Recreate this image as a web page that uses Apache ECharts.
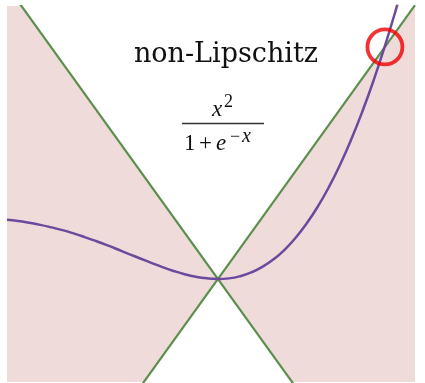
<!DOCTYPE html>
<html>
<head>
<meta charset="utf-8">
<script src="https://cdn.jsdelivr.net/npm/echarts@6/dist/echarts.min.js"></script>
<style>
html,body{margin:0;padding:0;background:#fff;}
#chart{width:425px;height:383px;}
</style>
</head>
<body>
<div id="chart"></div>
<script>
// Axis extents (data units)
var xRange = [-1.9, 1.775];
var yRange = [-0.818, 2.168];

// Cone apex and the two wedges (x at edge, upper y, lower y)
var coneApex = [0, 0];
var wedgeX = [-1.9, 1.775];
var wedgeTop = [2.3275, 2.1744];
var wedgeBottom = [-2.3275, -2.1744];

// The two boundary lines of the cone (slope +-1.225)
var lineDown = [[-1.9, 2.3275], [1.775, -2.1744]];
var lineUp = [[-1.9, -2.3275], [1.775, 2.1744]];

// Curve x^2/(1+e^-x), values
var curveX = [-1.9,-1.8,-1.7,-1.6,-1.5,-1.4,-1.3,-1.2,-1.1,-1.0,-0.9,-0.8,-0.7,-0.6,-0.5,-0.4,-0.3,-0.2,-0.1,0,
              0.1,0.2,0.3,0.4,0.5,0.6,0.7,0.8,0.9,1.0,1.1,1.2,1.3,1.4,1.5,1.6,1.7];
var curveY = [0.470,0.460,0.446,0.430,0.410,0.388,0.362,0.333,0.302,0.269,0.234,0.198,0.163,0.128,0.094,0.064,0.038,0.018,0.005,0,
              0.005,0.022,0.052,0.096,0.156,0.232,0.327,0.442,0.576,0.731,0.908,1.107,1.328,1.572,1.840,2.130,2.443];

// Highlighted crossing point
var markPoint = [[1.504, 1.843]];

var chart = echarts.init(document.getElementById('chart'), null, {renderer: 'canvas'});

function pairs(xs, ys) { return xs.map(function (x, i) { return [x, ys[i]]; }); }

var green = '#5b8f4c';
var purple = '#6b4a9e';
var shade = '#efdbd9';

var wedgeData = wedgeX.map(function (x, i) { return [x, wedgeTop[i], wedgeBottom[i]]; });

var option = {
  animation: false,
  backgroundColor: '#ffffff',
  grid: {left: 7, right: 10, top: 6, bottom: 1, containLabel: false},
  xAxis: {type: 'value', min: xRange[0], max: xRange[1], show: false},
  yAxis: {type: 'value', min: yRange[0], max: yRange[1], show: false},
  series: [
    {type: 'custom', clip: true, silent: true, z: 1, data: wedgeData,
     encode: {x: 0, y: [1, 2]},
     renderItem: function (params, api) {
       var a = api.coord(coneApex);
       var p1 = api.coord([api.value(0), api.value(1)]);
       var p2 = api.coord([api.value(0), api.value(2)]);
       var cs = params.coordSys;
       return {
         type: 'polygon',
         shape: {points: [a, p1, p2]},
         style: {fill: shade, stroke: null},
         clipPath: {type: 'rect', shape: {x: cs.x, y: cs.y, width: cs.width, height: cs.height}}
       };
     }},
    {type: 'line', data: lineDown, symbol: 'none', lineStyle: {color: green, width: 2.2}, z: 3},
    {type: 'line', data: lineUp, symbol: 'none', lineStyle: {color: green, width: 2.2}, z: 3},
    {type: 'line', data: pairs(curveX, curveY), smooth: true, symbol: 'none',
     lineStyle: {color: purple, width: 2.5}, z: 4},
    {type: 'scatter', data: markPoint, symbol: 'circle', symbolSize: 35,
     itemStyle: {color: 'rgba(0,0,0,0)', borderColor: '#f00000', borderWidth: 3.8}, z: 5}
  ],
  graphic: [
    {type: 'text', x: 226, y: 55, z: 10,
     style: {text: 'non-Lipschitz', font: '27px "DejaVu Serif"', fill: '#111', textAlign: 'center', textVerticalAlign: 'middle', verticalAlign: 'middle'}},
    {type: 'text', x: 212, y: 110, z: 10,
     style: {text: 'x', font: 'italic 23px "Liberation Serif"', fill: '#111', textAlign: 'left', textVerticalAlign: 'middle', verticalAlign: 'middle'}},
    {type: 'text', x: 224, y: 102, z: 10,
     style: {text: '2', font: '18px "Liberation Serif"', fill: '#111', textAlign: 'left', textVerticalAlign: 'middle', verticalAlign: 'middle'}},
    {type: 'line', z: 10, shape: {x1: 182, y1: 123.5, x2: 264, y2: 123.5}, style: {stroke: '#333', lineWidth: 1.3}},
    {type: 'text', x: 184, y: 144, z: 10,
     style: {text: '1', font: '23px "Liberation Serif"', fill: '#111', textAlign: 'left', textVerticalAlign: 'middle', verticalAlign: 'middle'}},
    {type: 'text', x: 199, y: 144, z: 10,
     style: {text: '+', font: '23px "Liberation Serif"', fill: '#111', textAlign: 'left', textVerticalAlign: 'middle', verticalAlign: 'middle'}},
    {type: 'text', x: 216, y: 144, z: 10,
     style: {text: 'e', font: 'italic 23px "Liberation Serif"', fill: '#111', textAlign: 'left', textVerticalAlign: 'middle', verticalAlign: 'middle'}},
    {type: 'text', x: 230, y: 137, z: 10,
     style: {text: '\u2212', font: '18px "Liberation Serif"', fill: '#111', textAlign: 'left', textVerticalAlign: 'middle', verticalAlign: 'middle'}},
    {type: 'text', x: 242, y: 137, z: 10,
     style: {text: 'x', font: 'italic 20px "Liberation Serif"', fill: '#111', textAlign: 'left', textVerticalAlign: 'middle', verticalAlign: 'middle'}}
  ]
};
chart.setOption(option);
</script>
</body>
</html>
